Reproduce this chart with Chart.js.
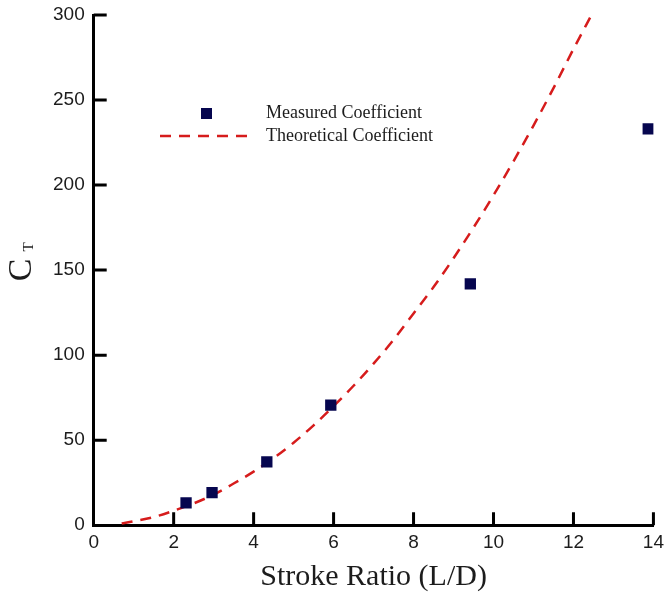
<!DOCTYPE html>
<html>
<head>
<meta charset="utf-8">
<script src="https://cdn.jsdelivr.net/npm/chart.js@4.4.0/dist/chart.umd.min.js"></script>
<style>
    html, body { margin: 0; padding: 0; background: #fff; }
    #wrap { width: 665px; height: 595px; }
</style>
</head>
<body>
<div id="wrap"><canvas id="ctChart" width="665" height="595"></canvas></div>
<script>
// measured points (stroke ratio, C_T)
const measuredX = [2.31, 2.96, 4.33, 5.93, 9.42, 13.87];
const measuredY = [13.1, 19.2, 37.2, 70.6, 141.9, 233];

// theoretical curve
const theoryX = [0.7, 1.0, 1.5, 2.0, 2.5, 3.0, 3.5, 4.0, 4.5, 5.0, 5.5, 6.0, 6.5, 7.0, 7.5, 8.0, 8.5, 9.0, 9.5, 10.0, 10.5, 11.0, 11.5, 12.0, 12.45];
const theoryY = [1, 2.3, 4.8, 8.5, 12.8, 18, 24.5, 31.5, 39.5, 48.5, 58.7, 70, 82, 95, 109, 124.5, 140, 157, 175, 194, 214, 235, 257, 280, 300];

const seriesNames = ['Measured Coefficient', 'Theoretical Coefficient'];
const xTitle = 'Stroke Ratio (L/D)';

const navy = '#06064f';
const red = '#d61c1c';
const ink = '#1c1c1c';

// ticks pointing into the plot, like the original figure
const innerTicks = {
    id: 'innerTicks',
    afterDatasetsDraw(chart) {
        const ctx = chart.ctx;
        const xs = chart.scales.x;
        const ys = chart.scales.y;
        const len = 13;
        ctx.save();
        ctx.strokeStyle = '#000';
        ctx.lineWidth = 3;
        ctx.beginPath();
        xs.ticks.forEach((t, i) => {
            if (t.value === 0) return;
            const px = xs.getPixelForTick(i);
            ctx.moveTo(px, ys.bottom);
            ctx.lineTo(px, ys.bottom - len);
        });
        ys.ticks.forEach((t, i) => {
            if (t.value === 0) return;
            const py = ys.getPixelForTick(i);
            ctx.moveTo(xs.left, py);
            ctx.lineTo(xs.left + len, py);
        });
        ctx.stroke();
        ctx.restore();
    }
};

// legend sits inside the plot, upper left
const innerLegend = {
    id: 'innerLegend',
    afterDraw(chart) {
        const ctx = chart.ctx;
        const m = chart.data.datasets[0];
        const t = chart.data.datasets[1];
        ctx.save();
        ctx.font = '18px "Liberation Serif", "Times New Roman", serif';
        ctx.textAlign = 'left';
        ctx.textBaseline = 'middle';

        ctx.fillStyle = m.backgroundColor;
        ctx.fillRect(201, 108, 11, 11);
        ctx.fillStyle = ink;
        ctx.fillText(m.label, 266, 113);

        ctx.strokeStyle = t.borderColor;
        ctx.lineWidth = t.borderWidth;
        ctx.setLineDash(t.borderDash);
        ctx.beginPath();
        ctx.moveTo(160, 136);
        ctx.lineTo(252, 136);
        ctx.stroke();
        ctx.setLineDash([]);
        ctx.fillText(t.label, 266, 136);
        ctx.restore();
    }
};

// y title: C with subscript T, rotated
const yTitle = {
    id: 'yTitle',
    afterDraw(chart) {
        const ctx = chart.ctx;
        ctx.save();
        ctx.translate(22, 270);
        ctx.rotate(-Math.PI / 2);
        ctx.fillStyle = ink;
        ctx.textAlign = 'center';
        ctx.textBaseline = 'middle';
        ctx.font = '34px "Liberation Serif", "Times New Roman", serif';
        ctx.fillText('C', 0, 0);
        ctx.font = '15px "Liberation Serif", "Times New Roman", serif';
        ctx.fillText('T', 23, 7);
        ctx.restore();
    }
};

const ctx = document.getElementById('ctChart').getContext('2d');
const chart = new Chart(ctx, {
    type: 'scatter',
    data: {
        datasets: [{
            label: seriesNames[0],
            data: measuredX.map((x, i) => ({ x: x, y: measuredY[i] })),
            backgroundColor: navy,
            borderColor: navy,
            pointStyle: 'rect',
            pointRadius: 8,
            pointBorderWidth: 0,
            showLine: false,
            order: 1
        }, {
            label: seriesNames[1],
            data: theoryX.map((x, i) => ({ x: x, y: theoryY[i] })),
            borderColor: red,
            backgroundColor: red,
            borderWidth: 2.5,
            borderDash: [11, 8],
            pointRadius: 0,
            showLine: true,
            cubicInterpolationMode: 'monotone',
            order: 2
        }]
    },
    options: {
        responsive: false,
        animation: false,
        layout: {
            padding: { left: 50, right: 10, top: 15, bottom: 1 }
        },
        plugins: {
            legend: { display: false },
            tooltip: { enabled: false }
        },
        scales: {
            x: {
                type: 'linear',
                min: 0,
                max: 14,
                ticks: {
                    stepSize: 2,
                    padding: 1,
                    color: ink,
                    font: { family: '"Liberation Sans", Arial, sans-serif', size: 19 }
                },
                grid: { display: false, drawTicks: true, tickLength: 5 },
                border: { display: true, color: '#000', width: 3 },
                title: {
                    display: true,
                    text: xTitle,
                    color: ink,
                    padding: { top: 6, bottom: 0 },
                    font: { family: '"Liberation Serif", "Times New Roman", serif', size: 30, lineHeight: 1.1 }
                }
            },
            y: {
                type: 'linear',
                min: 0,
                max: 300,
                ticks: {
                    stepSize: 50,
                    padding: 3,
                    color: ink,
                    font: { family: '"Liberation Sans", Arial, sans-serif', size: 19 }
                },
                grid: { display: false, drawTicks: true, tickLength: 6 },
                border: { display: true, color: '#000', width: 3 }
            }
        }
    },
    plugins: [innerTicks, innerLegend, yTitle]
});
</script>
</body>
</html>
